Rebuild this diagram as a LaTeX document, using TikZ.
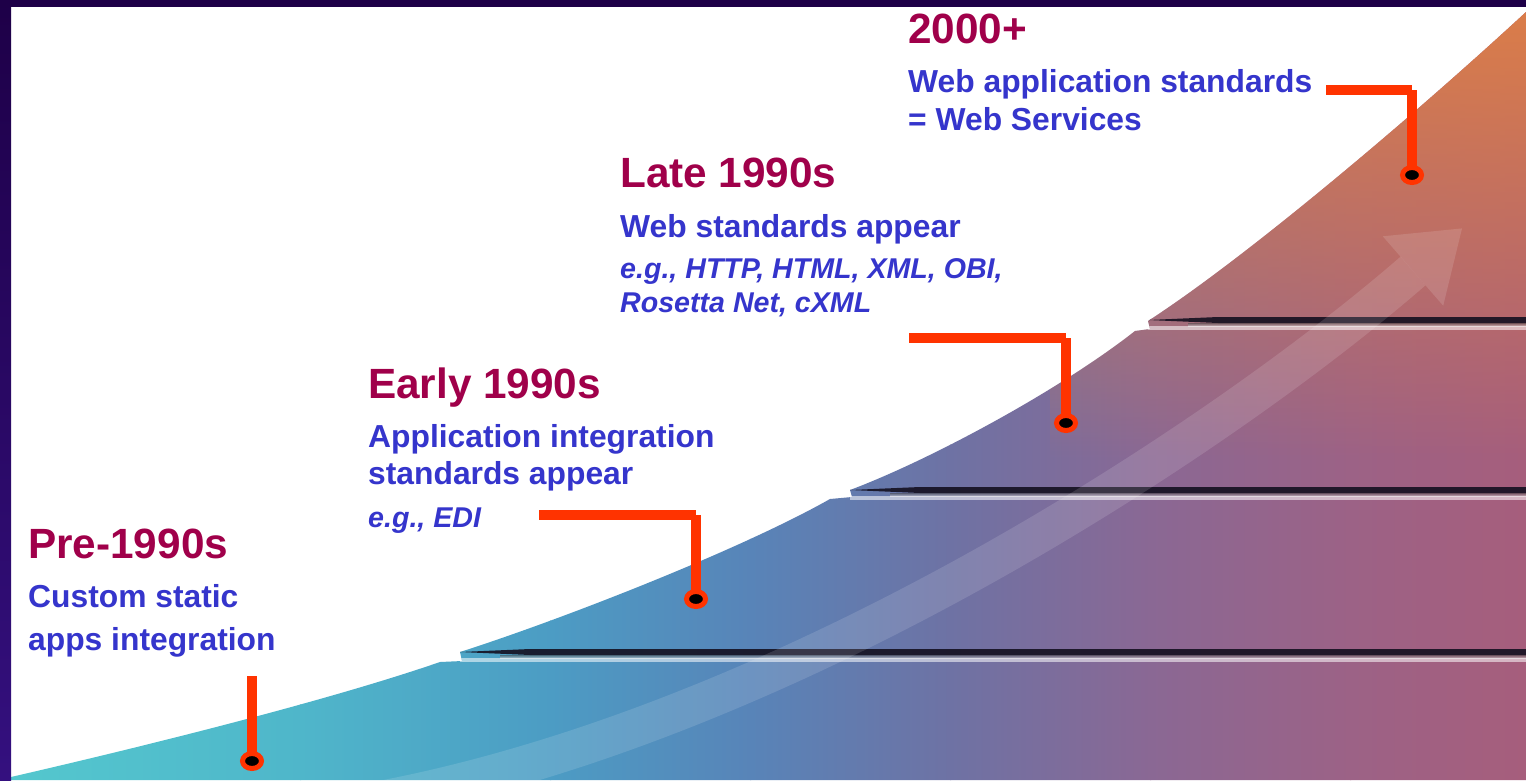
\documentclass[tikz,border=0pt]{standalone}
\usepackage{fontspec}
\setmainfont{Liberation Sans}
\usetikzlibrary{shapes.geometric,fadings}

\definecolor{bordertop}{HTML}{1E0048}
\definecolor{borderbot}{HTML}{34107F}
\definecolor{headcol}{HTML}{A0004A}
\definecolor{bodyblue}{HTML}{3535CC}
\definecolor{connred}{HTML}{FF3300}
\definecolor{linedark}{HTML}{141020}
\definecolor{warmtop}{HTML}{DC7E48}
\definecolor{s0}{HTML}{54C8CE}
\definecolor{s1}{HTML}{4FB6CA}
\definecolor{s2}{HTML}{4C9CC4}
\definecolor{s3}{HTML}{5884B8}
\definecolor{s4}{HTML}{6E72A4}
\definecolor{s5}{HTML}{8A6894}
\definecolor{s6}{HTML}{9C6286}
\definecolor{s7}{HTML}{A65E7C}

% one step edge: dark tapered shadow line, soft grey, light highlight
\newcommand{\stepedge}[2]{%
  \fill[linedark, opacity=.9] (#1,#2) -- (#1+70,#2-3) -- (1526,#2-3) -- (1526,#2+3) -- (#1+70,#2+3) -- cycle;
  \shade[top color=black!70, bottom color=black!10, opacity=.55] (#1+40,#2+3) rectangle (1526,#2+6);
  \fill[white, opacity=.55] (#1,#2+6) rectangle (1526,#2+10);
}

\begin{document}
\begin{tikzpicture}[x=1pt,y=-1pt,
  headtext/.style={anchor=base west, inner sep=0pt, text=headcol,
    font=\fontsize{42.3}{50}\selectfont\bfseries},
  bodytext/.style={anchor=base west, inner sep=0pt, text=bodyblue,
    font=\fontsize{31.8}{38}\selectfont\bfseries},
  egtext/.style={anchor=base west, inner sep=0pt, text=bodyblue,
    font=\fontsize{28.6}{34}\selectfont\bfseries\itshape},
  connline/.style={draw=connred, line width=9.5pt},
  enddot/.style={ellipse, draw=connred, fill=black, line width=5pt,
    minimum width=19pt, minimum height=15pt, inner sep=0pt},
]
\useasboundingbox (0,0) rectangle (1526,780);
\fill[white] (0,0) rectangle (1526,780);

% rising staircase of bands
\begin{scope}
  \clip (11,780) -- (11,777) .. controls (150,745) and (330,700) .. (440,662)
    -- (462,661) -- (460,652)
    .. controls (560,620) and (740,550) .. (830,499) -- (852,497) -- (850,490)
    .. controls (930,460) and (1060,390) .. (1135,331) -- (1150,329) -- (1148,321)
    .. controls (1250,255) and (1420,110) .. (1526,12) -- (1526,780) -- cycle;
  \shade[left color=s0, right color=s1] (0,0) rectangle (301,780);
  \shade[left color=s1, right color=s2] (300,0) rectangle (551,780);
  \shade[left color=s2, right color=s3] (550,0) rectangle (751,780);
  \shade[left color=s3, right color=s4] (750,0) rectangle (951,780);
  \shade[left color=s4, right color=s5] (950,0) rectangle (1151,780);
  \shade[left color=s5, right color=s6] (1150,0) rectangle (1351,780);
  \shade[left color=s6, right color=s7] (1350,0) rectangle (1526,780);
  % warm glow towards the top right (y axis points down here)
  \fill[warmtop, path fading=south] (1050,0) rectangle (1526,460);

  \stepedge{460}{652}
  \stepedge{850}{490}
  \stepedge{1148}{320}

  % translucent rising arrow
  \draw[white, opacity=.13, line width=38pt]
    (380,800) .. controls (800,720) and (1230,430) .. (1413,271);
  \fill[white, opacity=.13] (1443.2,305.7) -- (1462,228.4) -- (1382.8,236.3) -- cycle;
\end{scope}

% frame
\fill[bordertop] (0,0) rectangle (1526,7);
\shade[top color=bordertop, bottom color=borderbot] (0,0) rectangle (11,780);

% labels
\node[headtext] (t4) at (908,43) {2000+};
\node[bodytext] (t4a) at (908,92) {Web application standards};
\node[bodytext] (t4b) at (908,130) {= Web Services};

\node[headtext] (t3) at (620,187) {Late 1990s};
\node[bodytext] (t3a) at (620,237) {Web standards appear};
\node[egtext] (t3b) at (620,278) {e.g., HTTP, HTML, XML, OBI,};
\node[egtext] (t3c) at (620,312) {Rosetta Net, cXML};

\node[headtext] (t2) at (368,398) {Early 1990s};
\node[bodytext] (t2a) at (368,447) {Application integration};
\node[bodytext] (t2b) at (368,484) {standards appear};
\node[egtext] (t2c) at (368,527) {e.g., EDI};

\node[headtext] (t1) at (28,558) {Pre-1990s};
\node[bodytext] (t1a) at (28,607) {Custom static};
\node[bodytext] (t1b) at (28,650) {apps integration};

% leader lines to the milestones
\coordinate (k4s) at (1326,90);
\coordinate (k4c) at (1412,90);
\coordinate (p4) at (1412,175);
\coordinate (k3s) at (909,338);
\coordinate (k3c) at (1066,338);
\coordinate (p3) at (1066,423);
\coordinate (k2s) at (539,515);
\coordinate (k2c) at (696,515);
\coordinate (p2) at (696,599);
\coordinate (k1s) at (252,676);
\coordinate (p1) at (252,761);

\draw[connline] (k4s) -- (k4c);
\draw[connline] (k4c) -- (p4);
\draw[connline] (k3s) -- (k3c);
\draw[connline] (k3c) -- (p3);
\draw[connline] (k2s) -- (k2c);
\draw[connline] (k2c) -- (p2);
\draw[connline] (k1s) -- (p1);

\node[enddot] (d4) at (p4) {};
\node[enddot] (d3) at (p3) {};
\node[enddot] (d2) at (p2) {};
\node[enddot] (d1) at (p1) {};
\end{tikzpicture}
\end{document}
